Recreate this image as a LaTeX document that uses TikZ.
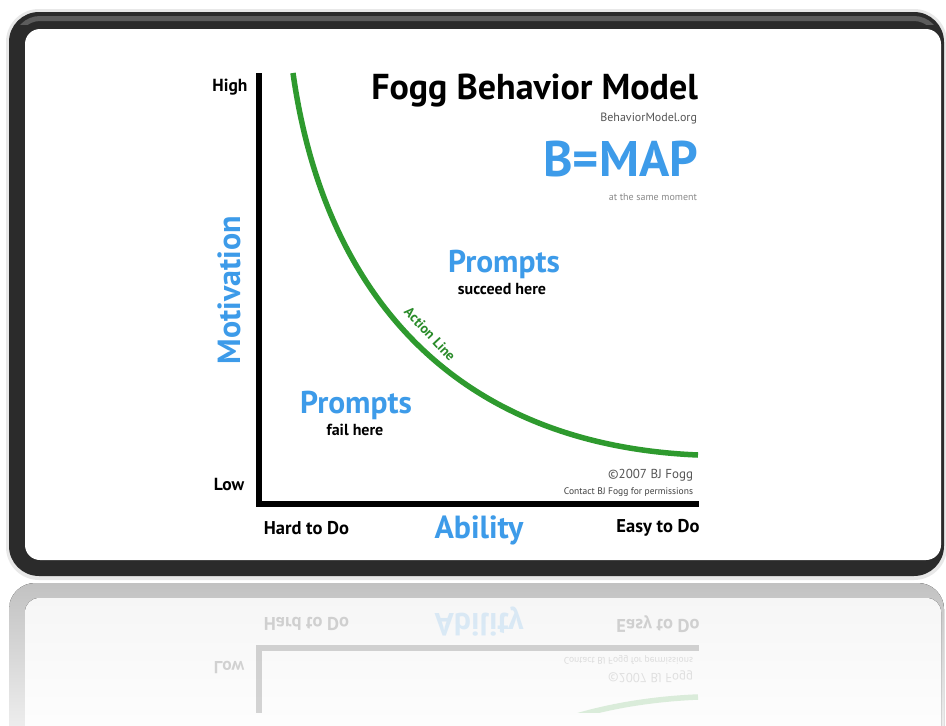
\documentclass[tikz,border=0pt]{standalone}
\usepackage{fontspec}
\setmainfont{PT Sans}
\definecolor{fbmblue}{HTML}{3D9BE9}
\definecolor{fbmgreen}{HTML}{2E9A2E}
\definecolor{framedark}{HTML}{2B2B2B}
\definecolor{framelight}{HTML}{5C5C5C}
\definecolor{smallgray}{HTML}{555555}
\definecolor{lightgray2}{HTML}{8A8A8A}
\tikzset{
  txt/.style={inner sep=0pt, outer sep=0pt},
  lblsmall/.style={txt, font=\bfseries\fontsize{17.5}{17.5}\selectfont},
  lblaxis/.style={txt, font=\bfseries\fontsize{18.5}{18.5}\selectfont},
  axisname/.style={txt, text=fbmblue, font=\bfseries\fontsize{32}{32}\selectfont},
  titletxt/.style={txt, font=\bfseries\fontsize{36}{36}\selectfont},
  bmaptxt/.style={txt, text=fbmblue, font=\bfseries\fontsize{50}{50}\selectfont},
  urltxt/.style={txt, text=smallgray, font=\fontsize{12}{12}\selectfont},
  momenttxt/.style={txt, text=lightgray2, font=\fontsize{10}{10}\selectfont},
  prompttxt/.style={txt, text=fbmblue, font=\bfseries\fontsize{31.5}{31.5}\selectfont},
  subtxt/.style={txt, font=\bfseries\fontsize{16}{16}\selectfont},
  copytxt/.style={txt, text=smallgray, font=\fontsize{13}{13}\selectfont},
  contacttxt/.style={txt, text=black!75, font=\fontsize{9.5}{9.5}\selectfont},
  actlbl/.style={txt, text=fbmgreen!90!black, font=\bfseries\fontsize{14}{14}\selectfont},
  axisline/.style={line width=6.5pt, line join=miter, black},
  actionline/.style={line width=5.5pt, fbmgreen},
}
% lower part of the chart (also shown in the reflection)
\newcommand\fbmlower{%
  \coordinate (ytop) at (259,73);
  \coordinate (orig) at (259,504);
  \coordinate (xend) at (699,504);
  \draw[axisline] (ytop) -- (orig) -- (xend);
  \coordinate (cstart) at (293,73);
  \coordinate (cend) at (698,455);
  \draw[actionline] (cstart) .. controls (325,300) and (460,445) .. (cend);
  \node[lblsmall] (low) at (229,484.5) {Low};
  \node[lblaxis] (hard) at (306.5,528) {Hard to Do};
  \node[axisname] (ability) at (479,530) {Ability};
  \node[lblaxis] (easy) at (658,528) {Easy to Do};
  \node[copytxt, anchor=east] (copy) at (693,475) {©2007 BJ Fogg};
  \node[contacttxt, anchor=east] (contact) at (693,492) {Contact BJ Fogg for permissions};
}
% upper part of the chart
\newcommand\fbmupper{%
  \node[lblsmall] (high) at (230,87.5) {High};
  \node[axisname, rotate=90] (motiv) at (229,290) {Motivation};
  \node[titletxt, anchor=east] (title) at (698,91) {Fogg Behavior Model};
  \node[urltxt, anchor=east] (url) at (697,119) {BehaviorModel.org};
  \node[bmaptxt, anchor=east] (bmap) at (698,158.5) {B=MAP};
  \node[momenttxt, anchor=east] (moment) at (697,197) {at the same moment};
  \node[prompttxt] (p1) at (504,264) {Prompts};
  \node[subtxt] (s1) at (502,289) {succeed here};
  \node[prompttxt] (p2) at (356,405.5) {Prompts};
  \node[subtxt] (s2) at (355,430) {fail here};
  \node[actlbl, rotate=-47] (act) at (430,334) {Action Line};
}
\begin{document}
\begin{tikzpicture}[x=1pt, y=-1pt]
  \useasboundingbox (0,0) rectangle (946,726);
  \fill[white] (0,0) rectangle (946,726);
  % reflected frame
  \fill[top color=gray!48, bottom color=gray!6, rounded corners=26pt] (9,583) rectangle (944,760);
  \fill[top color=white!93!gray, bottom color=white, rounded corners=14pt] (25,598) rectangle (941,760);
  % reflected chart
  \begin{scope}
    \clip (25,598) rectangle (941,712);
    \begin{scope}[shift={(0,1152)}, yscale=-1, transform shape, opacity=0.16, name prefix=r-]
      \fbmlower
    \end{scope}
  \end{scope}
  % soft shadow
  \draw[gray!35, line width=4pt, opacity=0.5, rounded corners=31pt] (8,11) rectangle (945,578);
  % frame
  \fill[framedark, rounded corners=30pt] (9,12) rectangle (944,576);
  \begin{scope}
    \clip (0,0) rectangle (946,24);
    \draw[framelight, line width=5pt, rounded corners=24pt] (16,18.5) rectangle (938,570);
  \end{scope}
  \fill[white, rounded corners=15pt] (25,29) rectangle (941,560);
  \fbmlower
  \fbmupper
\end{tikzpicture}
\end{document}
